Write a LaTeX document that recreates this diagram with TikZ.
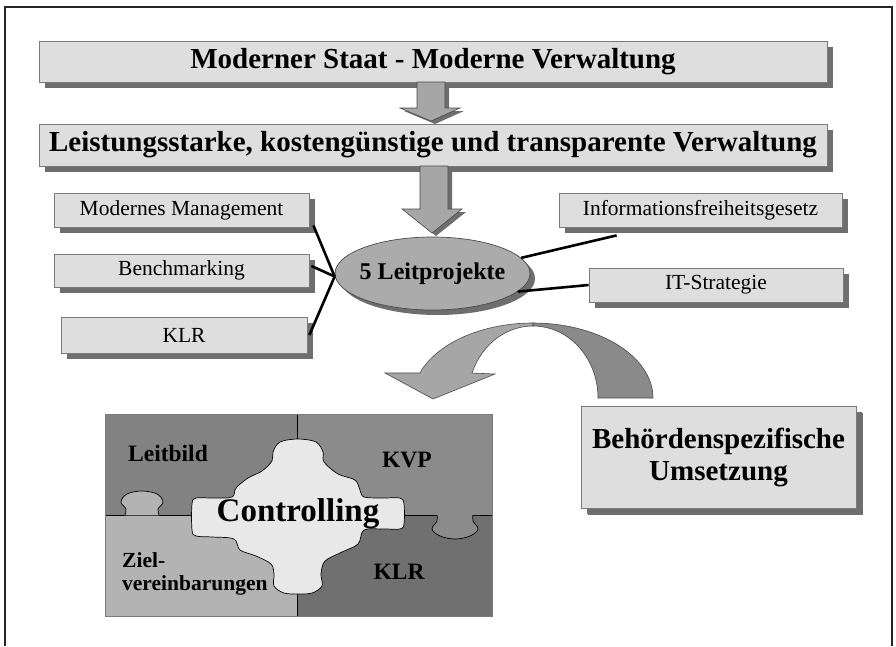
\documentclass[tikz,border=0pt]{standalone}
\usepackage{fontspec}
\setmainfont{Liberation Serif}
\usetikzlibrary{shapes.geometric,shadows,calc}
\definecolor{boxfill}{HTML}{DEDEDE}
\definecolor{boxline}{HTML}{7A7A7A}
\definecolor{shadowc}{HTML}{6E6E6E}
\definecolor{ellfill}{HTML}{ABABAB}
\definecolor{arrfill}{HTML}{A6A6A6}
\definecolor{arrdark}{HTML}{8A8A8A}
\definecolor{outl}{HTML}{4A4A4A}
\definecolor{pTL}{HTML}{828282}
\definecolor{pTR}{HTML}{8B8B8B}
\definecolor{pBL}{HTML}{B3B3B3}
\definecolor{pBR}{HTML}{707070}
\definecolor{pC}{HTML}{E8E8E8}
\begin{document}
\begin{tikzpicture}[x=1pt,y=-1pt,
  box/.style={draw=boxline, line width=0.8pt, fill=boxfill, inner sep=0pt,
    drop shadow={shadow xshift=6pt, shadow yshift=-6pt, opacity=1, fill=shadowc}},
  bigbold/.style={font=\fontsize{29}{32}\selectfont\bfseries},
  smalltxt/.style={font=\fontsize{21.5}{24}\selectfont},
  plabel/.style={font=\fontsize{23.5}{26}\selectfont\bfseries, inner sep=0pt},
  zlabel/.style={font=\fontsize{21.5}{24}\selectfont\bfseries, inner sep=0pt},
  conn/.style={line width=2.6pt, black},
  blockarrow/.style={fill=arrfill, draw=outl, line width=0.6pt},
  blockshadow/.style={fill=shadowc},
  piecefill/.style={draw=none},
  pieceline/.style={draw=black, line width=0.7pt}
]
\useasboundingbox (0,0) rectangle (896,646);
% frame
\draw[line width=1.5pt, black!85] (5,646) -- (5,7) -- (892,7) -- (892,646);

% top boxes
\node[box, bigbold, minimum width=788pt, minimum height=41pt] (top) at (433,61.5) {Moderner Staat - Moderne Verwaltung};
\node[box, bigbold, minimum width=788pt, minimum height=42pt] (lk) at (433,145) {Leistungsstarke, kostengünstige und transparente Verwaltung};

% arrow 1
\fill[blockshadow] (421,85) -- (449,85) -- (449,111) -- (464,111) -- (435,124) -- (404,111) -- (421,111) -- cycle;
\path[blockarrow] (417,82) -- (445,82) -- (445,108) -- (460,108) -- (431,121) -- (400,108) -- (417,108) -- cycle;

% side boxes
\node[box, smalltxt, minimum width=255pt, minimum height=34pt] (mm) at (181.5,210) {Modernes Management};
\node[box, smalltxt, minimum width=255pt, minimum height=33pt] (bm) at (181.5,270.5) {Benchmarking};
\node[box, smalltxt, minimum width=246pt, minimum height=36pt] (klr) at (184,335) {KLR};
\node[box, smalltxt, minimum width=283pt, minimum height=34pt] (ifg) at (700.5,210) {Informationsfreiheitsgesetz};
\node[box, smalltxt, minimum width=254pt, minimum height=34pt] (its) at (716,285) {IT-Strategie};

% ellipse
\node[ellipse, draw=outl, line width=0.7pt, fill=ellfill, minimum width=195pt, minimum height=73pt, inner sep=0pt,
  drop shadow={shadow xshift=5pt, shadow yshift=-5pt, opacity=1, fill=shadowc},
  label={[font=\fontsize{24}{26}\selectfont\bfseries]center:5 Leitprojekte}] (lp) at (432.5,273.5) {};

% arrow 2
\fill[blockshadow] (424,169) -- (452,169) -- (452,212) -- (466,212) -- (436,236) -- (406,212) -- (424,212) -- cycle;
\path[blockarrow] (420,166) -- (448,166) -- (448,209) -- (462,209) -- (432,233) -- (402,209) -- (420,209) -- cycle;

% connectors
\draw[conn] ([xshift=4pt,yshift=2pt]mm.south east) -- ([yshift=-3pt]lp.west);
\draw[conn] ([xshift=2pt,yshift=4.5pt]bm.east) -- ([yshift=-3pt]lp.west);
\draw[conn] ([xshift=2pt]klr.east) -- ([yshift=-3pt]lp.west);
\draw[conn] ([xshift=58pt,yshift=-8pt]ifg.south west) -- (lp.10);
\draw[conn] (lp.-12) -- (its.west);

% curved arrow
\path[fill=arrdark, draw=outl, line width=0.6pt]
  plot[domain=-90:0, samples=40] ({533+120*cos(\x)},{398+75*sin(\x)})
  -- plot[domain=0:-90, samples=40] ({533+65*cos(\x)},{398+72*sin(\x)}) -- cycle;
\path[fill=arrfill, draw=outl, line width=0.6pt]
  plot[domain=-90:-160.5, samples=40] ({533+120*cos(\x)},{398+75*sin(\x)})
  -- (385,373) -- (433,399) -- (495,374)
  -- plot[domain=-159.7:-90, samples=40] ({533+65*cos(\x)},{398+72*sin(\x)}) -- cycle;

% puzzle
\fill[pTL] (105,414) rectangle (297,515);
\fill[pTR] (297,414) rectangle (492,515);
\fill[pBL] (105,515) rectangle (297,616);
\fill[pBR] (297,515) rectangle (492,616);
\draw[pieceline] (105,515) -- (492,515);
\draw[pieceline] (297,414) -- (297,616);
% left knob (bottom-left piece)
\fill[pBL] plot[smooth, tension=0.6] coordinates {(125,515.4) (126,509) (121,502) (127,494) (142,491) (157,494) (163,502) (158,509) (159,515.4)} -- cycle;
\draw[pieceline] plot[smooth, tension=0.6] coordinates {(125,515) (126,509) (121,502) (127,494) (142,491) (157,494) (163,502) (158,509) (159,515)};
% right knob (top-right piece)
\fill[pTR] plot[smooth, tension=0.6] coordinates {(437,514.6) (437,521) (432,529) (440,536) (455,539) (470,536) (478,529) (473,521) (473,514.6)} -- cycle;
\draw[pieceline] plot[smooth, tension=0.6] coordinates {(437,515) (437,521) (432,529) (440,536) (455,539) (470,536) (478,529) (473,521) (473,515)};
% center piece
\begin{scope}[shift={(298,516)}]
\path[fill=pC, draw=black, line width=0.7pt] plot[smooth cycle, tension=0.55] coordinates {
 (0,-77) (18,-74) (25,-64) (26,-54) (40,-42) (57,-36) (62,-26) (66,-19) (85,-18) (102,-18) (106,-12)
 (106,8) (102,13) (85,13) (66,14) (60,28) (44,36) (27,45) (23,58) (24,70) (14,77) (0,78)
 (-14,77) (-24,70) (-24,58) (-27,48) (-42,40) (-58,34) (-64,23) (-85,21) (-102,20) (-106,14)
 (-106,-12) (-102,-18) (-85,-18) (-66,-19) (-62,-28) (-50,-38) (-36,-45) (-26,-55) (-25,-64) (-18,-74)};
\end{scope}
\draw[draw=boxline, line width=0.8pt] (105,414) rectangle (492,616);

\node[plabel] (leit) at (168,453) {Leitbild};
\node[plabel] (kvp) at (407,460) {KVP};
\node[plabel] (klr2) at (399,572) {KLR};
\node[font=\fontsize{33}{36}\selectfont\bfseries, inner sep=0pt] (ctrl) at (298,514) {Controlling};
\node[zlabel, anchor=base west] (ziel) at (122,567) {Ziel-};
\node[zlabel, anchor=base west] (verein) at (122,590) {vereinbarungen};

% Behoerden box
\node[box, bigbold, minimum width=275pt, minimum height=102pt, align=center,
  drop shadow={shadow xshift=7pt, shadow yshift=-7pt, opacity=1, fill=shadowc}] (beh) at (718.5,457) {Behördenspezifische\\Umsetzung};
\end{tikzpicture}
\end{document}
